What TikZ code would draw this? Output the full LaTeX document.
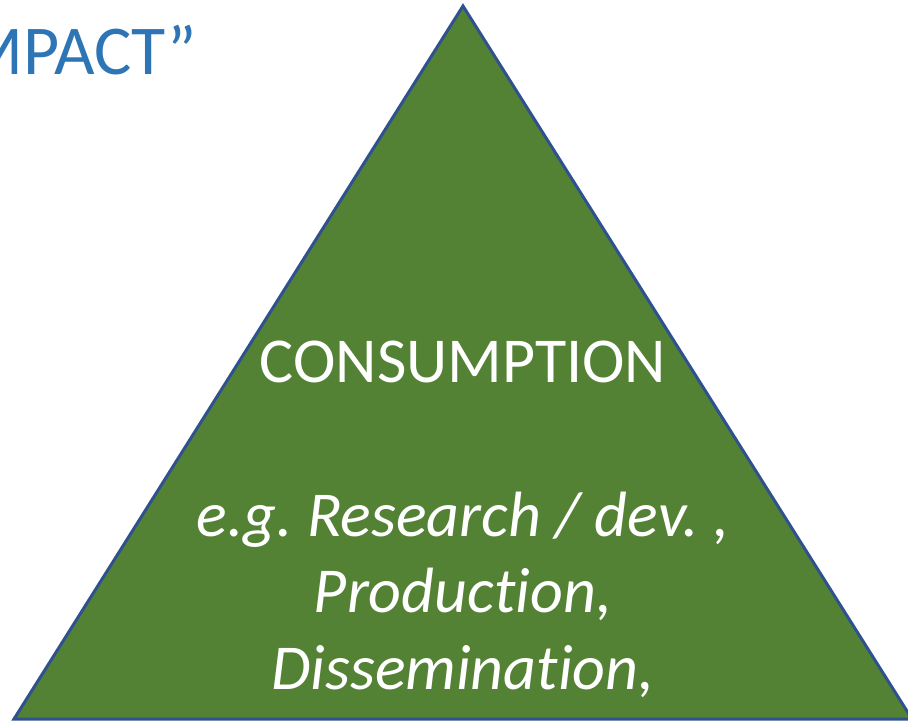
\documentclass[tikz,border=0pt]{standalone}
\usepackage{fontspec}
\setmainfont[Ligatures={NoCommon}]{Carlito}
\frenchspacing
\usetikzlibrary{calc}
\definecolor{pyr_green}{RGB}{84, 130, 53}
\definecolor{pyr_edge}{RGB}{47, 82, 143}
\definecolor{title_blue}{RGB}{46, 117, 182}
\tikzstyle{pyr}=[fill=pyr_green,draw=pyr_edge,line width=3pt,line join=miter]
\tikzstyle{big}=[text=white,inner sep=0pt,font=\fontsize{64}{77}\selectfont]
\tikzstyle{ex}=[text=white,inner sep=0pt,align=center,font=\fontsize{64}{77}\selectfont\itshape]
\tikzstyle{ttl}=[text=title_blue,inner sep=0pt,font=\fontsize{70}{84}\selectfont]

\begin{document}
\begin{tikzpicture}[x=1pt, y=-1pt]
            \useasboundingbox (0, 0) rectangle (908, 723);
            \coordinate (0) at (463, 6);
            \coordinate (1) at (14, 719);
            \coordinate (2) at (912, 719);
            \draw [style=pyr] (0) -- (1) -- (2) -- cycle;
            \node [style=ttl, anchor=base east] (3) at (197, 74) {MPACT”};
            \node [style=big, anchor=base] (4) at (463, 382) {CONSUMPTION};
            \node [style=ex, anchor=base] (5) at (463, 536) {e.g. Research / dev. ,};
            \node [style=ex, anchor=base] (6) at (463, 612) {Production,};
            \node [style=ex, anchor=base] (7) at (463, 689) {Dissemination,};
    \end{tikzpicture}
\end{document}
